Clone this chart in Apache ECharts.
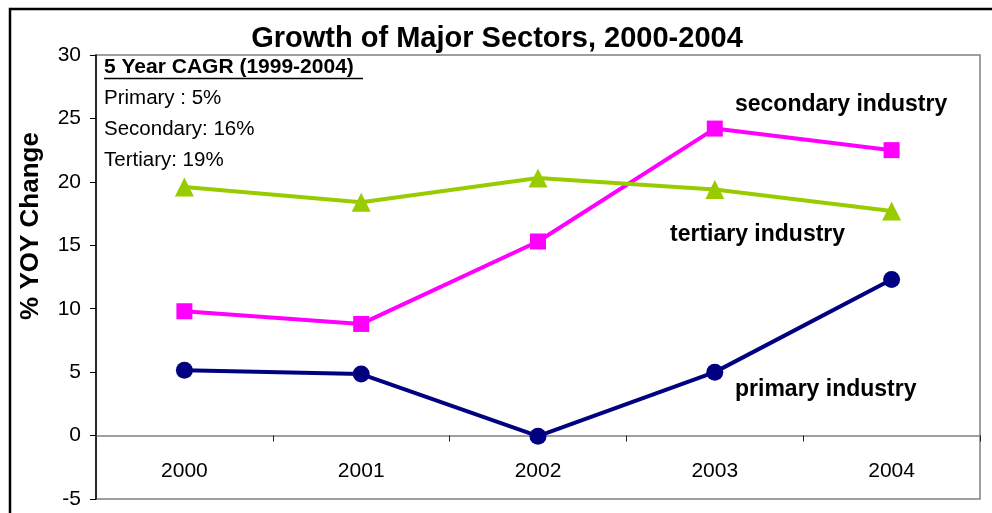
<!DOCTYPE html>
<html><head><meta charset="utf-8">
<script src="https://cdn.jsdelivr.net/npm/echarts@6/dist/echarts.min.js"></script>
<style>html,body{margin:0;padding:0;background:#fff}#c{width:992px;height:513px}</style>
</head><body><div id="c"></div>
<script>
const years = ['2000','2001','2002','2003','2004'];
const primary = [5.15, 4.85, -0.05, 5.0, 12.3];
const secondary = [9.8, 8.8, 15.3, 24.2, 22.5];
const tertiary = [19.6, 18.4, 20.3, 19.4, 17.7];
const yTicks = {min: -5, max: 30, step: 5};
const cagrTitle = '5 Year CAGR (1999-2004)';
const cagrLines = ['Primary : 5%', 'Secondary: 16%', 'Tertiary: 19%'];
const seriesLabels = ['primary industry', 'secondary industry', 'tertiary industry'];
const yName = '% YOY Change';

const FONT = '"Liberation Sans", Arial, sans-serif';
const chart = echarts.init(document.getElementById('c'), null, {renderer: 'canvas'});
const lineSeries = (name, data, color, symbol, size) => ({
  name, type: 'line', data, symbol, symbolSize: size,
  itemStyle: {color}, lineStyle: {color, width: 4}, animation: false, z: 5
});
chart.setOption({
  animation: false,
  title: {text: 'Growth of Major Sectors, 2000-2004', left: 492, top: 19, textAlign: 'center',
    textStyle: {fontFamily: FONT, fontSize: 29, fontWeight: 'bold', color: '#000'}},
  grid: {left: 96, right: 12, top: 55, bottom: 14, show: true, borderColor: '#808080', borderWidth: 1.5,
    containLabel: false, outerBoundsMode: 'none'},
  xAxis: {type: 'category', data: years, boundaryGap: true,
    axisLine: {onZero: true, lineStyle: {color: '#808080', width: 1.5}},
    axisTick: {show: true, length: 6, lineStyle: {color: '#222'}},
    axisLabel: {margin: -38, fontFamily: FONT, fontSize: 21, color: '#000'},
    splitLine: {show: false}},
  yAxis: {type: 'value', min: yTicks.min, max: yTicks.max, interval: yTicks.step,
    axisLine: {show: true, lineStyle: {color: '#000', width: 1.5}},
    axisTick: {show: true, length: 6, lineStyle: {color: '#000'}},
    axisLabel: {margin: 15, fontFamily: FONT, fontSize: 21, color: '#000'},
    splitLine: {show: false}},
  series: [
    lineSeries('primary', primary, '#000080', 'circle', 17),
    lineSeries('secondary', secondary, '#FF00FF', 'rect', 16),
    lineSeries('tertiary', tertiary, '#99CC00', 'triangle', 19)
  ],
  graphic: [
    {type: 'rect', shape: {x: 10, y: 9, width: 1000, height: 520}, style: {fill: 'none', stroke: '#000', lineWidth: 2.5}, silent: true},
    {type: 'text', x: 31, y: 226, rotation: Math.PI / 2,
      style: {text: yName, font: 'bold 26px ' + FONT, fill: '#000', align: 'center', verticalAlign: 'middle'}},
    {type: 'text', left: 104, top: 57, style: {text: cagrTitle, font: 'bold 21px ' + FONT, fill: '#000'}},
    {type: 'line', shape: {x1: 104, y1: 78.5, x2: 363, y2: 78.5}, style: {stroke: '#000', lineWidth: 1.5}},
    {type: 'text', left: 104, top: 88, style: {text: cagrLines[0], font: '20.5px ' + FONT, fill: '#000'}},
    {type: 'text', left: 104, top: 119, style: {text: cagrLines[1], font: '20.5px ' + FONT, fill: '#000'}},
    {type: 'text', left: 104, top: 150, style: {text: cagrLines[2], font: '20.5px ' + FONT, fill: '#000'}},
    {type: 'text', left: 735, top: 93, style: {text: seriesLabels[1], font: 'bold 23px ' + FONT, fill: '#000'}},
    {type: 'text', left: 670, top: 223, style: {text: seriesLabels[2], font: 'bold 23px ' + FONT, fill: '#000'}},
    {type: 'text', left: 735, top: 378, style: {text: seriesLabels[0], font: 'bold 23px ' + FONT, fill: '#000'}}
  ]
});
</script></body></html>
